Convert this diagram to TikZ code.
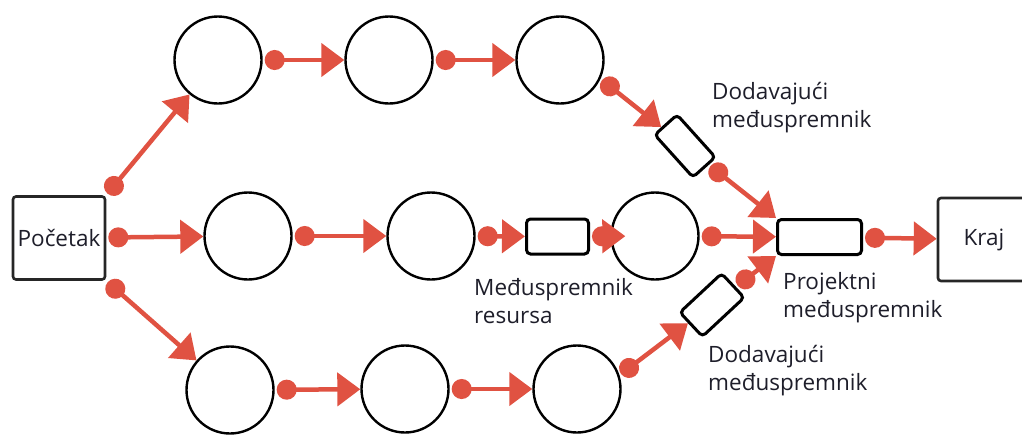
\documentclass[tikz,border=0pt]{standalone}
\usepackage{fontspec}
\setmainfont{Open Sans}
\usetikzlibrary{arrows.meta}
\definecolor{linkred}{HTML}{E05242}
\definecolor{txt}{HTML}{1E1E2A}
\tikzset{
  task/.style={circle, draw=black, line width=2.4pt, minimum size=87pt, inner sep=0pt},
  endbox/.style={rectangle, draw=black!85, line width=2.6pt, rounded corners=3pt, inner sep=0pt, font=\fontsize{22.5}{27}\selectfont, text=txt},
  buffer/.style={rectangle, draw=black, line width=3pt, rounded corners=4pt, inner sep=0pt},
  lbl/.style={anchor=north west, inner sep=0pt, align=left, text=txt, font=\fontsize{22.5}{28.5}\selectfont},
  conn/.style={draw=linkred, line width=4.5pt, {Circle[length=20pt]}-{Triangle[length=23pt,width=33pt]}, shorten <=2pt}
}
\begin{document}
\begin{tikzpicture}[x=1pt,y=-1pt]
\useasboundingbox (0,0) rectangle (1022,434);
% start / end
\node[endbox, minimum width=92pt, minimum height=83pt] (P) at (59,238) {Početak};
\node[endbox, minimum width=92pt, minimum height=83pt] (K) at (984,239.5) {Kraj};
% top chain
\node[task] (T1) at (218,60) {};
\node[task] (T2) at (389,60) {};
\node[task] (T3) at (560,60) {};
% middle chain
\node[task] (M1) at (248,236) {};
\node[task] (M2) at (431,236) {};
\node[task] (M3) at (655,236) {};
% bottom chain
\node[task] (B1) at (230,390) {};
\node[task] (B2) at (405,389) {};
\node[task] (B3) at (577,389) {};
% buffers
\node[buffer, minimum width=57pt, minimum height=30pt, rotate=-48] (FT) at (685,146) {};
\node[buffer, minimum width=57pt, minimum height=33pt, rotate=43] (FB) at (712,305) {};
\node[buffer, minimum width=62pt, minimum height=35pt] (RB) at (557.5,236.5) {};
\node[buffer, minimum width=84pt, minimum height=35pt] (PB) at (819.5,237) {};
% labels
\node[lbl] (LFT) at (712,82) {Dodavajući\\međuspremnik};
\node[lbl] (LRB) at (474,278) {Međuspremnik\\resursa};
\node[lbl] (LPB) at (783,272) {Projektni\\međuspremnik};
\node[lbl] (LFB) at (708,345) {Dodavajući\\međuspremnik};
% connectors
\draw[conn] (P.north east) -- (T1);
\draw[conn] (P) -- (M1);
\draw[conn] (P.south east) -- (B1);
\draw[conn] (T1) -- (T2);
\draw[conn] (T2) -- (T3);
\draw[conn] (T3.-25) -- (FT);
\draw[conn] (FT) -- (PB.north west);
\draw[conn] (M1) -- (M2);
\draw[conn] (M2) -- (RB);
\draw[conn, shorten >=-15pt] (RB) -- (M3);
\draw[conn] (M3) -- (PB);
\draw[conn] (PB) -- (K);
\draw[conn] (B1) -- (B2);
\draw[conn] (B2) -- (B3);
\draw[conn] (B3.18) -- (FB);
\draw[conn] (FB) -- (PB.south west);
\end{tikzpicture}
\end{document}
